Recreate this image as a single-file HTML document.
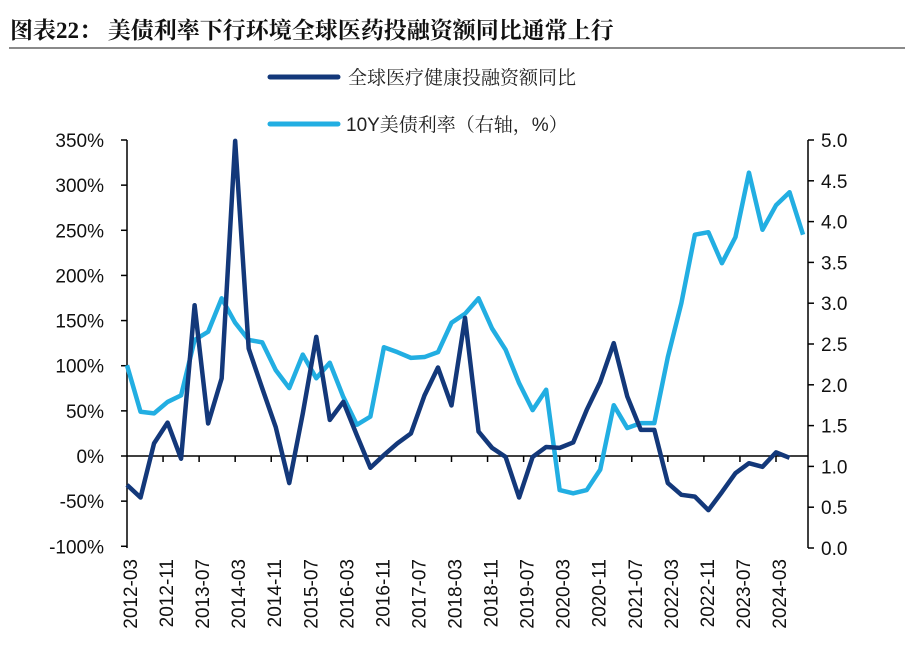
<!DOCTYPE html>
<html><head><meta charset="utf-8"><style>
body{margin:0;background:#fff;width:905px;height:656px;overflow:hidden;font-family:"Liberation Sans","Noto Sans CJK SC",sans-serif}
</style></head><body>
<svg id="chart" width="905" height="656" xmlns="http://www.w3.org/2000/svg">
<text x="10" y="38" font-size="23" font-weight="bold" font-family="'Liberation Serif','Noto Serif CJK SC',serif" fill="#111">图表22：  美债利率下行环境全球医药投融资额同比通常上行</text>
<line x1="9" y1="48" x2="905" y2="48" stroke="#8a8a8a" stroke-width="2"/>
<g font-family="'Liberation Sans','Noto Serif CJK SC',serif">
<line x1="270" y1="77" x2="338" y2="77" stroke="#13387a" stroke-width="5" stroke-linecap="round"/>
<text x="348" y="84" font-size="19" fill="#222">全球医疗健康投融资额同比</text>
<line x1="270" y1="124" x2="338" y2="124" stroke="#22aee2" stroke-width="5" stroke-linecap="round"/>
<text x="346" y="131" font-size="19" fill="#222">10Y美债利率（右轴，%）</text>
</g>
<g id="axes"></g>
<g id="series"></g>
</svg>
<script>
const xLabels=["2012-03","2012-11","2013-07","2014-03","2014-11","2015-07","2016-03","2016-11","2017-07","2018-03","2018-11","2019-07","2020-03","2020-11","2021-07","2022-03","2022-11","2023-07","2024-03"];
const leftTicks=[350,300,250,200,150,100,50,0,-50,-100];
const rightTicks=[5.0,4.5,4.0,3.5,3.0,2.5,2.0,1.5,1.0,0.5,0.0];
const healthcareYoY=[-32,-46,14,37,-3,167,36,86,349,119,75,32,-30,47,132,40,60,23,-13,1,14,25,67,98,56,153,27,9,-1,-46,-1,10,9,15,51,82,125,66,29,29,-30,-43,-45,-60,-40,-19,-8,-12,4,-2];
const treasury10Y=[2.24,1.67,1.65,1.79,1.87,2.55,2.65,3.06,2.76,2.55,2.52,2.18,1.96,2.37,2.08,2.27,1.85,1.51,1.61,2.46,2.40,2.33,2.34,2.40,2.76,2.87,3.06,2.69,2.43,2.02,1.69,1.94,0.71,0.67,0.71,0.96,1.75,1.47,1.53,1.53,2.34,3.00,3.84,3.87,3.49,3.81,4.60,3.90,4.20,4.36,3.84];

const NS="http://www.w3.org/2000/svg";
const X0=127,X1=808,PXM=(776-127)/144;
const yL=v=>456-(v)*(456-140)/350;
const yR=v=>548-v*(548-140)/5;
const xQ=i=>X0+i*3*PXM;
function mk(tag,attrs,parent){const e=document.createElementNS(NS,tag);for(const k in attrs)e.setAttribute(k,attrs[k]);parent.appendChild(e);return e;}
const ax=document.getElementById('axes'),se=document.getElementById('series');
let e;
e=mk('line',{x1:X0,y1:140,x2:X0,y2:548,stroke:'#000','stroke-width':1.5},ax);


e=mk('line',{x1:X1,y1:140,x2:X1,y2:548,stroke:'#000','stroke-width':1.5},ax);


e=mk('line',{x1:X0,y1:yL(0),x2:X1,y2:yL(0),stroke:'#000','stroke-width':1.5},ax);


leftTicks.forEach(v=>{
 e=mk('line',{x1:X0-6,y1:yL(v),x2:X0,y2:yL(v),stroke:'#000','stroke-width':1.5},ax);
 
 
 e=mk('text',{x:104,y:yL(v)+7,'text-anchor':'end','font-size':19,fill:'#111'},ax);
 
 
 e.textContent=v+'%';
});
rightTicks.forEach(v=>{
 e=mk('line',{x1:X1,y1:yR(v),x2:X1+6,y2:yR(v),stroke:'#000','stroke-width':1.5},ax);
 
 
 e=mk('text',{x:821,y:yR(v)+7,'font-size':19,fill:'#111'},ax);
 
 
 e.textContent=v.toFixed(1);
});
xLabels.forEach((s,i)=>{
 const x=X0+i*8*PXM;
 if(i>0){e=mk('line',{x1:x,y1:yL(0),x2:x,y2:yL(0)+6,stroke:'#000','stroke-width':1.5},ax);
 
 }
 e=mk('text',{x:0,y:0,'text-anchor':'end','font-size':19,fill:'#111',transform:`translate(${x+10},559) rotate(-90)`},ax);
 
 
 e.textContent=s;
});
e=mk('polyline',{points:treasury10Y.map((v,i)=>xQ(i)+','+yR(v)).join(' '),fill:'none',stroke:'#22aee2','stroke-width':4.5,'stroke-linejoin':'round'},se);


e=mk('polyline',{points:healthcareYoY.map((v,i)=>xQ(i)+','+yL(v)).join(' '),fill:'none',stroke:'#13387a','stroke-width':4.5,'stroke-linejoin':'round'},se);


</script>
</body></html>
